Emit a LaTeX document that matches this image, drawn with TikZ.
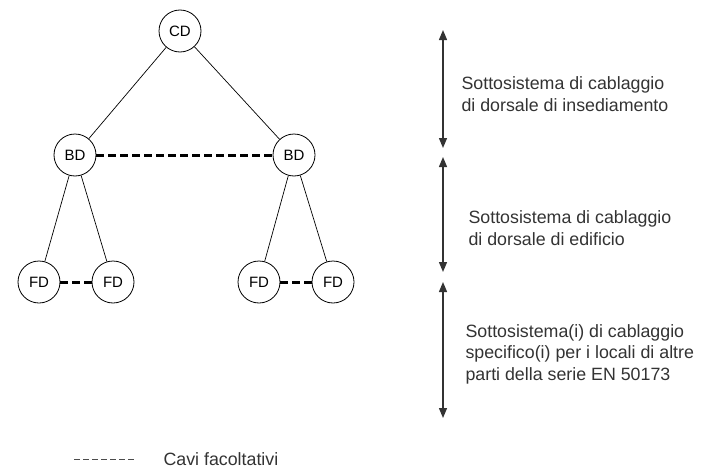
\documentclass[tikz,border=0pt]{standalone}
\usepackage{fontspec}
\setmainfont{Liberation Sans}
\usetikzlibrary{arrows.meta}

\begin{document}
\begin{tikzpicture}[x=1pt, y=-1pt,
  dist/.style={draw, circle, minimum size=42pt, inner sep=0pt, line width=0.8pt, font=\fontsize{15}{15}\selectfont},
  cavo/.style={line width=0.7pt},
  opz/.style={line width=3pt, dash pattern=on 8pt off 4pt},
  livello/.style={{Triangle[length=10pt,width=8pt]}-{Triangle[length=10pt,width=8pt]}, line width=1.3pt, draw=black!80},
  descr/.style={anchor=west, align=left, text=black!80, font=\fontsize{17.8}{21.5}\selectfont}]
\useasboundingbox (0,0) rectangle (726,471);
% distributori
\node[dist] (CD) at (180,31) {CD};
\node[dist] (BDa) at (75,155) {BD};
\node[dist] (BDb) at (294,155) {BD};
\node[dist] (FDa) at (39,282) {FD};
\node[dist] (FDb) at (113,282) {FD};
\node[dist] (FDc) at (259,282) {FD};
\node[dist] (FDd) at (333,282) {FD};
\draw[cavo] (CD) -- (BDa);
\draw[cavo] (CD) -- (BDb);
\draw[cavo] (BDa) -- (FDa);
\draw[cavo] (BDa) -- (FDb);
\draw[cavo] (BDb) -- (FDc);
\draw[cavo] (BDb) -- (FDd);
\draw[opz] (BDa) -- (BDb); % cavi facoltativi
\draw[opz] (FDa) -- (FDb);
\draw[opz] (FDc) -- (FDd);
% livelli
\coordinate (L0) at (443,30);
\coordinate (L1) at (443,148);
\coordinate (L2) at (443,157);
\coordinate (L3) at (443,272);
\coordinate (L4) at (443,282);
\coordinate (L5) at (443,418);
\draw[livello] (L0) -- (L1);
\draw[livello] (L2) -- (L3);
\draw[livello] (L4) -- (L5);
\node[descr] (T1) at (458,94) {Sottosistema di cablaggio\\di dorsale di insediamento};
\node[descr] (T2) at (465,228) {Sottosistema di cablaggio\\di dorsale di edificio};
\node[descr] (T3) at (462,354) {Sottosistema(i) di cablaggio\\specifico(i) per i locali di altre\\parti della serie EN 50173};
% legenda
\coordinate (La) at (74,459);
\coordinate (Lb) at (135,459);
\draw[line width=0.8pt, draw=black!70, dash pattern=on 6pt off 3pt] (La) -- (Lb);
\node[descr] (Leg) at (160,459) {Cavi facoltativi};
\end{tikzpicture}
\end{document}
